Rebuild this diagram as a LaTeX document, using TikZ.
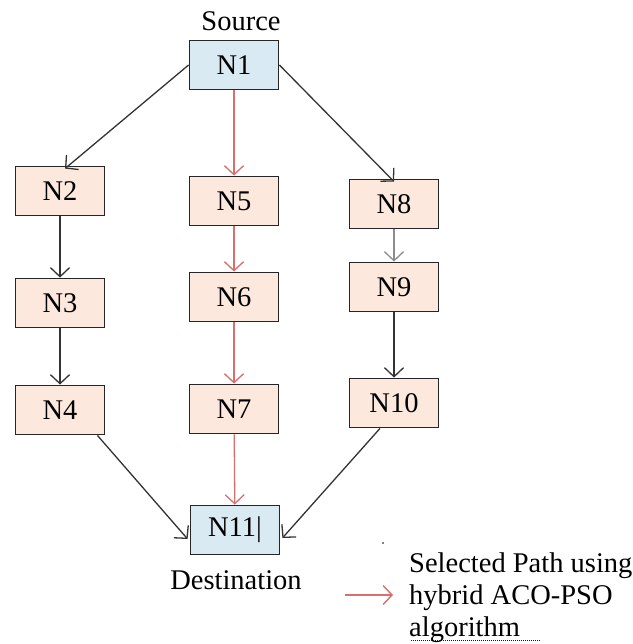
\documentclass[tikz,border=0pt]{standalone}
\usepackage{fontspec}
\setmainfont{Liberation Serif}
\usetikzlibrary{arrows.meta}

\definecolor{endfill}{RGB}{218,234,242}
\definecolor{midfill}{RGB}{252,232,220}
\definecolor{pathred}{RGB}{214,112,112}

\tikzset{
  nbox/.style={draw=black!85, line width=1.8pt, minimum width=89pt, minimum height=49pt, inner sep=0pt, fill=midfill},
  endbox/.style={nbox, fill=endfill},
  link/.style={draw=black!80, line width=1.3pt, -{Straight Barb[length=9pt,width=19pt]}},
  chosen/.style={link, draw=pathred}
}

\begin{document}
\begin{tikzpicture}[x=1pt,y=-1pt,font=\fontsize{28.5}{32}\selectfont]
        \useasboundingbox (0,0) rectangle (632,644);
        % nodes
        \node[endbox] (N1) at (234,65) {N1};
        \node[nbox] (N2) at (60,191) {N2};
        \node[nbox] (N3) at (60,303) {N3};
        \node[nbox] (N4) at (60,410) {N4};
        \node[nbox] (N5) at (234,201) {N5};
        \node[nbox] (N6) at (234,297) {N6};
        \node[nbox] (N7) at (234,409) {N7};
        \node[nbox] (N8) at (394,204) {N8};
        \node[nbox] (N9) at (394,287) {N9};
        \node[nbox] (N10) at (394,403) {N10};
        \node[endbox] (N11) at (235,530) {N11|};
        \node (src) at (241,21) {Source};
        \node (dst) at (236,580) {Destination};
        % left and right branches
        \draw[link] (N1.west) -- ([xshift=5pt,yshift=-3pt]N2.north);
        \draw[link] (N1.east) -- ([yshift=-3pt]N8.north);
        \draw[link] (N2) -- (N3);
        \draw[link] (N3) -- (N4);
        \draw[link, draw=black!45] (N8) -- (N9);
        \draw[link] (N9) -- (N10);
        \draw[link] ([xshift=-8pt]N4.south east) -- ([xshift=-2pt,yshift=-9pt]N11.west);
        \draw[link] ([xshift=-14pt]N10.south) -- ([xshift=2pt,yshift=-8pt]N11.east);
        % selected path
        \draw[chosen] (N1) -- (N5);
        \draw[chosen] (N5) -- (N6);
        \draw[chosen] (N6) -- (N7);
        \draw[chosen] (N7) -- (N11);
        % legend
        \coordinate (lgA) at (345,595);
        \coordinate (lgB) at (393,595);
        \draw[chosen, line width=1.4pt] (lgA) -- (lgB);
        \node[anchor=west, align=left, inner sep=0pt] (lgtext) at (409,598) {Selected Path using\\hybrid ACO-PSO\\algorithm};
        \fill (383,543) circle (0.8pt);
        \draw[blue!80!black, densely dotted, line width=1pt] (411,640) -- (540,640);
\end{tikzpicture}
\end{document}
